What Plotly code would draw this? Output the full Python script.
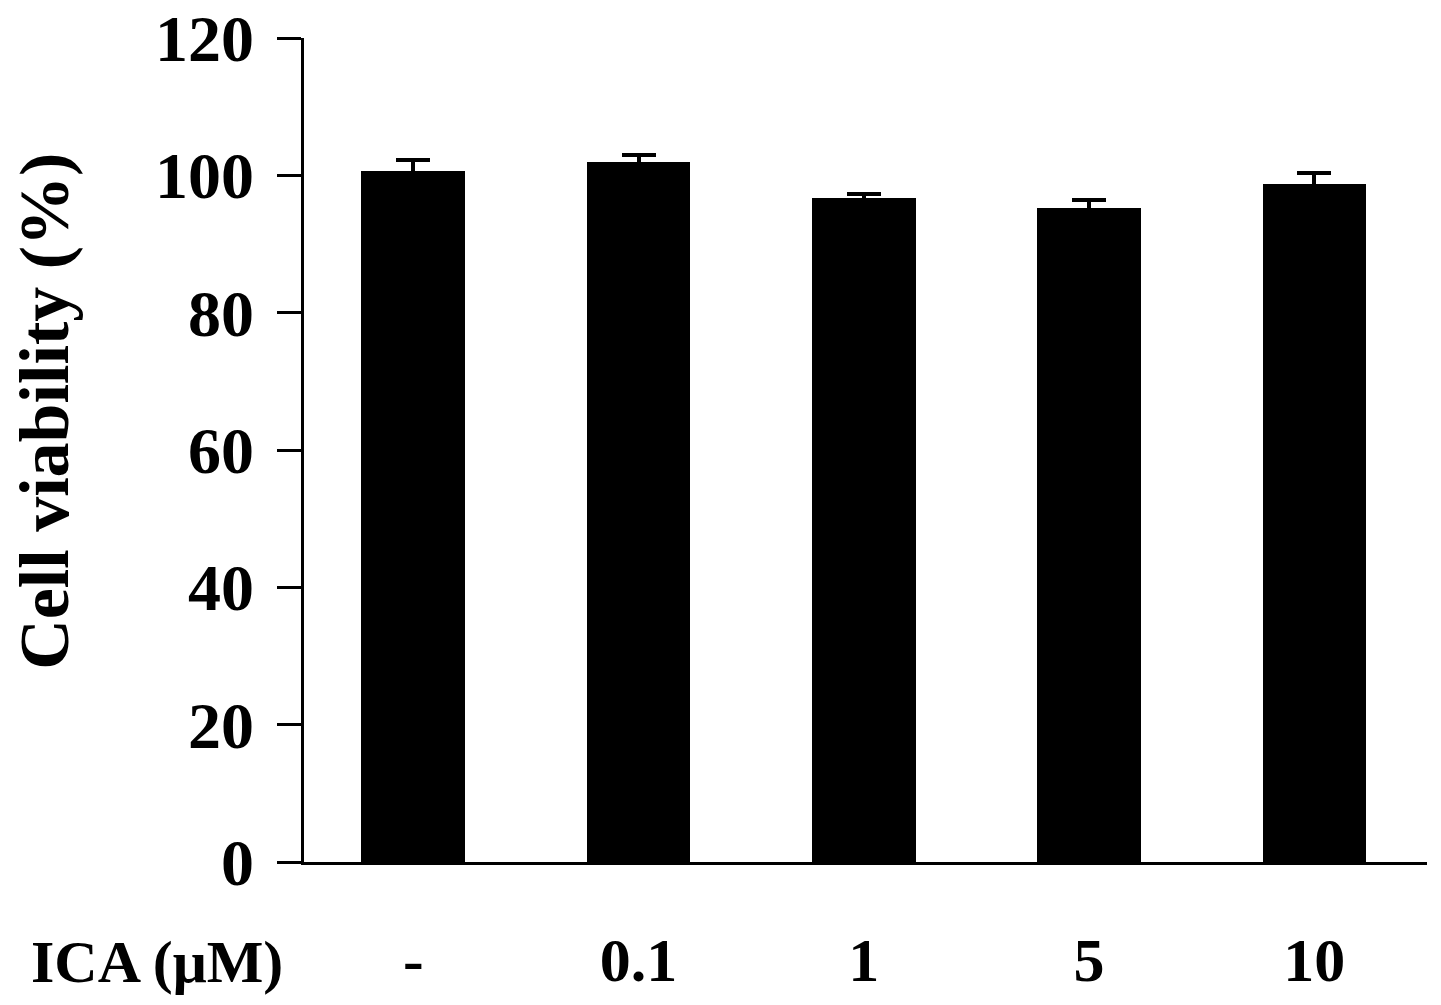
import plotly.graph_objects as go

# ICA concentration groups and cell viability
doses = ["-", "0.1", "1", "5", "10"]
viability = [100.6, 101.9, 96.7, 95.2, 98.7]
viability_err = [1.6, 1.0, 0.6, 1.2, 1.6]

y_ticks = [0, 20, 40, 60, 80, 100, 120]

font_family = "Liberation Serif, Times New Roman, serif"

fig = go.Figure()
fig.add_trace(go.Bar(
    x=list(range(len(doses))),
    y=viability,
    width=0.46,
    marker=dict(color="black", line=dict(width=0)),
    error_y=dict(type="data", array=viability_err, symmetric=True,
                 color="black", thickness=4, width=17),
))

# page body has an 8px margin, so the margins are shifted by that amount
fig.update_layout(
    width=1441, height=1005,
    margin=dict(l=296, r=22, t=30, b=151),
    plot_bgcolor="white", paper_bgcolor="white",
    showlegend=False,
    font=dict(family=font_family, color="black"),
    xaxis=dict(
        range=[-0.485, 4.5],
        tickmode="array",
        tickvals=list(range(len(doses))),
        ticktext=["<b>%s</b>" % d for d in doses],
        ticks="",
        ticklabelstandoff=42,
        ticklabeloverflow="allow",
        tickfont=dict(size=62, family=font_family, color="black"),
        showline=True, linecolor="black", linewidth=2.5,
        showgrid=False, zeroline=False, automargin=False,
    ),
    yaxis=dict(
        range=[0, 120],
        tickmode="array",
        tickvals=y_ticks,
        ticktext=["<b>%d</b>" % v for v in y_ticks],
        ticks="outside", ticklen=24, tickwidth=2.5, tickcolor="black",
        ticklabelstandoff=10,
        ticklabeloverflow="allow",
        tickfont=dict(size=66, family=font_family, color="black"),
        showline=True, linecolor="black", linewidth=2.5,
        showgrid=False, zeroline=False, automargin=False,
    ),
    bargap=0,
)

# y-axis title placed as a rotated annotation
fig.add_annotation(
    text="<b>Cell viability (%)</b>",
    xref="paper", yref="paper", x=-0.231, y=0.547,
    showarrow=False, textangle=-90,
    font=dict(size=70, family=font_family, color="black"),
    xanchor="center", yanchor="middle",
)

# row label for the concentration axis
fig.add_annotation(
    text="<b>ICA (μM)</b>",
    xref="paper", yref="paper", x=-0.131, y=-0.121,
    showarrow=False,
    font=dict(size=60, family=font_family, color="black"),
    xanchor="center", yanchor="middle",
)

fig.write_html("out.html")
